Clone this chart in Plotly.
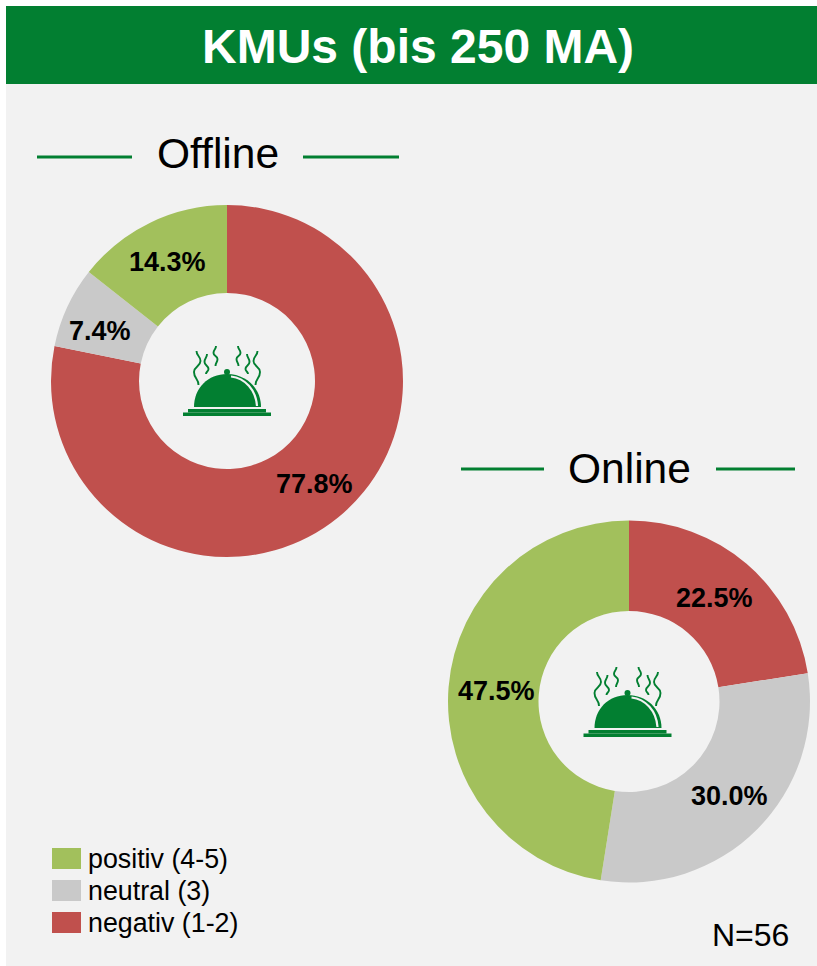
import math
import plotly.graph_objects as go

W, H = 817, 966
categories = ["negativ (1-2)", "neutral (3)", "positiv (4-5)"]
offline_values = [77.8, 7.4, 14.3]
online_values = [22.5, 30.0, 47.5]
legend_order = ["positiv (4-5)", "neutral (3)", "negativ (1-2)"]
colors = {"negativ (1-2)": "#C0504D", "neutral (3)": "#C9C9C9", "positiv (4-5)": "#A2C05C"}
GREEN = "#027F31"
FONT = "Liberation Sans"
# small hand nudges (px) of each value label away from the slice's mid-ring point
offline_nudges = [(4, 1), (-7, 6), (-2, 0)]
online_nudges = [(-3, 0), (5, -1), (3, 0)]


def px(x):
    return x / W


def py(y):
    return 1 - y / H


def path(cmds):
    out = []
    for c in cmds:
        if isinstance(c, str):
            out.append(c)
        else:
            out.append(f"{px(c[0]):.5f},{py(c[1]):.5f}")
    return " ".join(out)


shapes, annotations = [], []


def rect(x0, y0, x1, y1, color, layer="below"):
    shapes.append(dict(type="rect", xref="paper", yref="paper", x0=px(x0), x1=px(x1),
                       y0=py(y1), y1=py(y0), fillcolor=color, line_width=0, layer=layer))


def line(x0, x1, y):
    shapes.append(dict(type="line", xref="paper", yref="paper", x0=px(x0), x1=px(x1),
                       y0=py(y), y1=py(y), line=dict(color=GREEN, width=3)))


def text(x, y, s, size, color="#000000", bold=False, anchor="center"):
    annotations.append(dict(xref="paper", yref="paper", x=px(x), y=py(y), text=f"<b>{s}</b>" if bold else s,
                            showarrow=False, xanchor=anchor, yanchor="middle",
                            font=dict(family=FONT, size=size, color=color)))


def wave(points):
    cmds = ["M", points[0]]
    for a, b in zip(points, points[1:]):
        my = (a[1] + b[1]) / 2
        cmds += ["C", (a[0], my), (b[0], my), b]
    return path(cmds)


def icon(ox, oy):
    P = lambda x, y: (ox + x, oy + y)
    # dome
    shapes.append(dict(type="path", xref="paper", yref="paper", line_width=0, fillcolor=GREEN,
                       path=path(["M", P(194, 407), "C", P(194, 388), P(208, 374), P(227, 374),
                                  "C", P(246, 374), P(261, 388), P(261, 407), "Z"])))
    # highlight
    shapes.append(dict(type="path", xref="paper", yref="paper", line=dict(color="#F2F2F2", width=2.2),
                       path=path(["M", P(231, 376.5), "C", P(245, 378), P(256, 390), P(257, 406)])))
    # knob
    shapes.append(dict(type="circle", xref="paper", yref="paper", line_width=0, fillcolor=GREEN,
                       x0=px(ox + 224), x1=px(ox + 230), y0=py(oy + 375), y1=py(oy + 369)))
    # plates
    for x0, y0, x1, y1 in [(188, 409, 266, 412.5), (183, 412.5, 271, 416)]:
        shapes.append(dict(type="rect", xref="paper", yref="paper", line_width=0, fillcolor=GREEN,
                           x0=px(ox + x0), x1=px(ox + x1), y0=py(oy + y1), y1=py(oy + y0)))
    # steam: three wavy strands on each side of the dome
    steam = [
        [(196.5, 351), (200.5, 361), (194, 372), (198.5, 385)],
        [(207, 354), (204.5, 362), (208.5, 369), (206, 374)],
        [(216, 346), (213.5, 353), (217.5, 359), (215.5, 366)],
    ]
    for s in steam:
        for mirror in (False, True):
            pts = [P(454 - x if mirror else x, y) for x, y in s]
            shapes.append(dict(type="path", xref="paper", yref="paper", line=dict(color=GREEN, width=1.9),
                               path=wave(pts)))


rect(6, 6, W, H, "#F2F2F2")
rect(6, 6, W, 84, GREEN)
text(418, 47, "KMUs (bis 250 MA)", 48, "#FFFFFF", bold=True)
text(218, 153, "Offline", 42.5)
line(37, 132, 157)
line(303, 399, 157)
text(629.5, 468, "Online", 42.5)
line(461, 544, 469)
line(716, 795, 469)
icon(0, 0)
icon(400.5, 321)

for i, name in enumerate(legend_order):
    y0 = 848 + i * 32
    rect(52, y0, 81, y0 + 21, colors[name])
    text(86, y0 + 11, name, 26.8, anchor="left")
text(791, 935, "N=56", 32, anchor="right")


def donut(values, cx, cy, r, name, nudges):
    total, run = sum(values), 0
    for v, (nx, ny) in zip(values, nudges):
        a = 2 * math.pi * (run + v / 2) / total
        run += v
        text(cx + 0.75 * r * math.sin(a) + nx, cy - 0.75 * r * math.cos(a) + ny, f"{v:.1f}%", 27, bold=True)
    return go.Pie(labels=categories, values=values, name=name, sort=False, direction="clockwise", rotation=0,
                  hole=0.5, textinfo="none",
                  marker=dict(colors=[colors[c] for c in categories], line=dict(width=0)),
                  domain=dict(x=[px(cx - r), px(cx + r)], y=[py(cy + r), py(cy - r)]), showlegend=False,
                  hoverinfo="label+value")


fig = go.Figure([donut(offline_values, 227, 381, 176, "Offline", offline_nudges),
                 donut(online_values, 629, 701.5, 181, "Online", online_nudges)])
fig.update_layout(width=W, height=H, margin=dict(l=0, r=0, t=0, b=0), paper_bgcolor="#FFFFFF",
                  shapes=shapes, annotations=annotations, showlegend=False)
fig.write_html("out.html", config=dict(displayModeBar=False), post_script="document.body.style.margin='0';")
